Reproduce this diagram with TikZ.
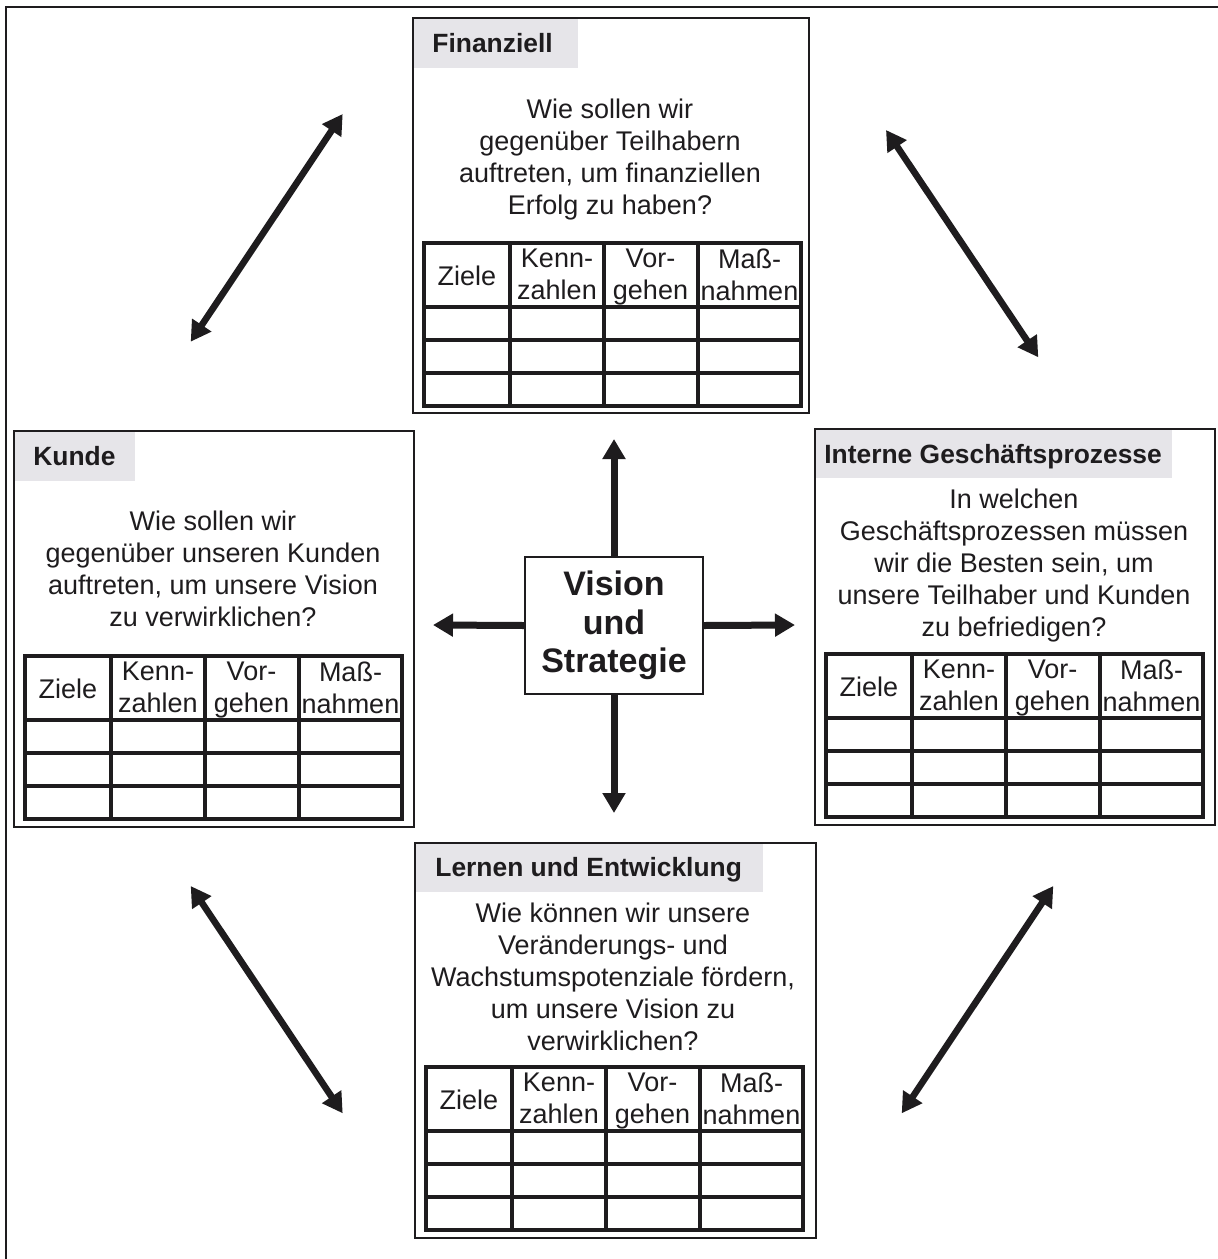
\documentclass[tikz,border=0pt]{standalone}
\usepackage{fontspec}
\setmainfont{Liberation Sans}
\usetikzlibrary{arrows.meta}

\definecolor{ink}{RGB}{30,28,30}
\definecolor{headgray}{RGB}{230,229,233}

% Table of goals, key figures, approach and measures; #1 name prefix, (#2,#3) top-left corner
\newcommand\bsctab[3]{%
  \begin{scope}[shift={(#2,#3)}]
    \draw[tabline] (0,0) rectangle (377,163);
    \draw[tabline] (0,64) -- (377,64) (0,97) -- (377,97) (0,130) -- (377,130)
                   (86,0) -- (86,163) (180,0) -- (180,163) (274,0) -- (274,163);
    \node[cellhead] (#1-ziele) at (43,23) {Ziele};
    \node[cellhead] (#1-kenn)  at (133,6) {Kenn-\\zahlen};
    \node[cellhead] (#1-vor)   at (226.5,6) {Vor-\\gehen};
    \node[cellhead] (#1-mass)  at (325.5,6) {Maß-\\nahmen};
  \end{scope}}

\begin{document}
\begin{tikzpicture}[x=0.5pt,y=-0.5pt,
  every node/.style={text=ink},
  pbox/.style={draw=ink, line width=0.9pt, anchor=north west, inner sep=0pt},
  headbar/.style={fill=headgray, anchor=north west, inner sep=0pt},
  headtxt/.style={anchor=base west, inner sep=0pt, font=\fontsize{13.2}{16}\selectfont\bfseries},
  question/.style={anchor=north, inner sep=0pt, align=center, font=\fontsize{13.5}{16}\selectfont},
  cellhead/.style={anchor=north, inner sep=0pt, align=center, font=\fontsize{13.5}{16}\selectfont},
  tabline/.style={draw=ink, line width=1.6pt},
  frameline/.style={draw=ink, line width=1pt},
  visbox/.style={draw=ink, line width=1pt, minimum width=89pt, minimum height=68.5pt,
    inner sep=0pt, align=center, font=\fontsize{17}{19.25}\selectfont\bfseries},
  link/.style={draw=ink, line width=3.5pt, -{Triangle[length=10pt,width=11pt]}},
  duallink/.style={draw=ink, line width=3.3pt,
    {Triangle[length=10pt,width=11pt]}-{Triangle[length=10pt,width=11pt]}}
]
\useasboundingbox (0,0) rectangle (1218,1259);
\fill[white] (0,0) rectangle (1218,1259);

% frame
\draw[frameline] (6,1259) -- (6,7) -- (1218,7);

% header bars
\node[headbar, minimum width=83pt,   minimum height=25.5pt] (finbar) at (412,17) {};
\node[headbar, minimum width=61pt,   minimum height=25.5pt] (kunbar) at (13,430) {};
\node[headbar, minimum width=179pt,  minimum height=25pt]   (intbar) at (814,428) {};
\node[headbar, minimum width=174.5pt,minimum height=25pt]   (lerbar) at (414,842) {};

% perspective boxes
\node[pbox, minimum width=198pt,   minimum height=197.5pt] (fin) at (412,17) {};
\node[pbox, minimum width=200pt,   minimum height=198pt]   (kun) at (13,430) {};
\node[pbox, minimum width=200pt,   minimum height=198pt]   (int) at (814,428) {};
\node[pbox, minimum width=200.5pt, minimum height=197.5pt] (ler) at (414,842) {};

% titles
\node[headtxt] (fintitle) at (432,52) {Finanziell};
\node[headtxt] (kuntitle) at (33,465) {Kunde};
\node[headtxt] (inttitle) at (824,463) {Interne Geschäftsprozesse};
\node[headtxt] (lertitle) at (435,876) {Lernen und Entwicklung};

% questions
\node[question] (finq) at (610,99)
  {Wie sollen wir\\gegenüber Teilhabern\\auftreten, um finanziellen\\Erfolg zu haben?};
\node[question] (kunq) at (213,511)
  {Wie sollen wir\\gegenüber unseren Kunden\\auftreten, um unsere Vision\\zu verwirklichen?};
\node[question] (intq) at (1014,489)
  {In welchen\\Geschäftsprozessen müssen\\wir die Besten sein, um\\unsere Teilhaber und Kunden\\zu befriedigen?};
\node[question] (lerq) at (613,903)
  {Wie können wir unsere\\Veränderungs- und\\Wachstumspotenziale fördern,\\um unsere Vision zu\\verwirklichen?};

% tables
\bsctab{fint}{424}{243}
\bsctab{kunt}{25}{656}
\bsctab{intt}{826}{654}
\bsctab{lert}{426}{1067}

% centre
\node[visbox] (vis) at (614,625.5) {Vision\\und\\Strategie};

\coordinate (upend)    at (614,439);
\coordinate (leftend)  at (433,625);
\coordinate (rightend) at (795,625);
\coordinate (downend)  at (614,813);
\draw[link] (vis.north) -- (upend);
\draw[link] (vis.west)  -- (leftend);
\draw[link] (vis.east)  -- (rightend);
\draw[link] (vis.south) -- (downend);

% links between neighbouring perspectives
\coordinate (tla) at (190.7,341.7);  \coordinate (tlb) at (342.7,114);
\coordinate (tra) at (886,130);      \coordinate (trb) at (1038.3,357.3);
\coordinate (bla) at (190.7,886);    \coordinate (blb) at (342.7,1113.3);
\coordinate (bra) at (1053.3,886);   \coordinate (brb) at (901.7,1113.3);
\draw[duallink] (tla) -- (tlb);
\draw[duallink] (tra) -- (trb);
\draw[duallink] (bla) -- (blb);
\draw[duallink] (bra) -- (brb);
\end{tikzpicture}
\end{document}
